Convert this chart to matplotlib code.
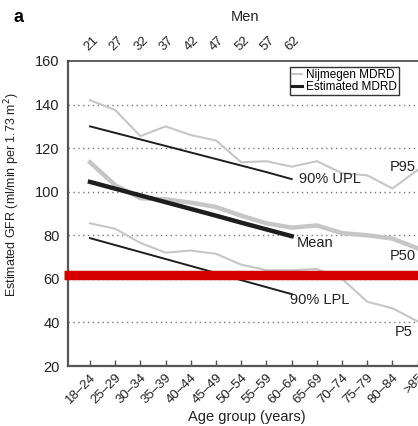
import matplotlib
matplotlib.use("Agg")
import matplotlib.pyplot as plt

plt.rcParams['font.family'] = ['Liberation Sans', 'DejaVu Sans']

age_groups = ['18–24', '25–29', '30–34', '35–39', '40–44', '45–49', '50–54',
              '55–59', '60–64', '65–69', '70–74', '75–79', '80–84', '>85']
men_ages = ['21', '27', '32', '37', '42', '47', '52', '57', '62']

p95 = [142, 137.5, 125.5, 130, 126, 123.5, 113.5, 114, 111.5, 114, 108.5, 107.5, 101.5, 110]
p50 = [113.5, 103, 97, 96.5, 95, 93, 89, 85.5, 83.5, 84.5, 81, 80, 78.5, 74]
p5 = [85.5, 83, 76.5, 72, 73, 71.5, 66.5, 64, 64, 64.5, 60, 49.5, 46.5, 40.5]

est_upl = [130, 127, 124, 121, 118, 115, 112, 109, 105.8]
est_mean = [104.5, 101.4, 98.3, 95.2, 92.1, 89.0, 85.8, 82.7, 79.6]
est_lpl = [78.7, 75.5, 72.3, 69.1, 65.9, 62.7, 59.4, 56.2, 53.0]

W, H = 418, 426
fig = plt.figure(figsize=(W / 100, H / 100), dpi=100)
ax = fig.add_axes([68 / W, (H - 366) / H, (425 - 68) / W, (366 - 61) / H])

xs = list(range(len(age_groups)))
xe = list(range(len(men_ages)))
gray = '#c6c6c6'
dark = '#1e1e1e'

ax.set_xlim(-0.873, 13.29)
ax.set_ylim(20, 160)

for v in [40, 60, 80, 100, 120, 140]:
    ax.axhline(v, color='#777777', lw=1.0, ls=(0, (1, 2.5)), zorder=1)

ax.plot(xs, p95, color=gray, lw=1.5, zorder=2)
ax.plot(xs, p50, color=gray, lw=3.2, zorder=2)
ax.plot(xs, p5, color=gray, lw=1.5, zorder=2)
ax.plot(xe, est_upl, color=dark, lw=1.4, zorder=3)
ax.plot(xe, est_mean, color=dark, lw=3.2, zorder=3)
ax.plot(xe, est_lpl, color=dark, lw=1.4, zorder=3)

# legend
from matplotlib.lines import Line2D
handles = [Line2D([], [], color=gray, lw=1.5), Line2D([], [], color=dark, lw=2.2)]
leg = ax.legend(handles, ['Nijmegen MDRD', 'Estimated MDRD'], loc='upper left',
                bbox_to_anchor=((290 - 68) / (425 - 68), 1 - (67 - 61) / 305),
                fontsize=8.5, handlelength=0.9, handletextpad=0.3, borderpad=0.15,
                labelspacing=0.0, fancybox=False, framealpha=1, edgecolor='#333333',
                borderaxespad=0)
leg.get_frame().set_linewidth(1.0)

tkw = dict(fontsize=10.5, color='#222222')
ax.text(8.3, 105.8, '90% UPL', va='center', ha='left', **tkw)
ax.text(8.2, 76.5, 'Mean', va='center', ha='left', **tkw)
ax.text(7.95, 50.5, '90% LPL', va='center', ha='left', **tkw)
ax.text(11.9, 111.5, 'P95', va='center', ha='left', **tkw)
ax.text(11.9, 70.5, 'P50', va='center', ha='left', **tkw)
ax.text(12.1, 35.5, 'P5', va='center', ha='left', **tkw)

# red bar
ax.axhline(61.7, xmin=-0.012, xmax=1, color='#d40000', lw=6.8, clip_on=False, zorder=5,
           solid_capstyle='butt')

ax.set_xticks(xs)
ax.set_xticklabels(age_groups, rotation=45, ha='right', rotation_mode='anchor', fontsize=9.5,
                   color='#222222')
ax.set_yticks([20, 40, 60, 80, 100, 120, 140, 160])
ax.tick_params(axis='x', direction='in', length=4, width=1, color='#555555', pad=4)
ax.tick_params(axis='y', length=0, labelsize=10.5, labelcolor='#222222', pad=6)

for s in ['left', 'bottom']:
    ax.spines[s].set_linewidth(1.6)
    ax.spines[s].set_color('#555555')
ax.spines['top'].set_linewidth(1.2)
ax.spines['top'].set_color('#444444')
ax.spines['right'].set_visible(False)

ax.set_xlabel('Age group (years)', fontsize=10.5, color='#222222', labelpad=3)
ax.set_ylabel('Estimated GFR (ml/min per 1.73 m$^2$)', fontsize=9, color='#222222')
ax.yaxis.set_label_coords(22 / W * (W / (425 - 68)) - 68 / (425 - 68), 0.56)

top = ax.secondary_xaxis('top')
top.set_xticks(xe)
top.set_xticklabels(men_ages, rotation=45, ha='left', rotation_mode='anchor', fontsize=9.5,
                    color='#222222')
top.tick_params(length=0, pad=6)
top.spines['top'].set_visible(False)

fig.text(245 / W, 1 - 17 / H, 'Men', ha='center', va='center', fontsize=10.5, color='#222222')
fig.text(18 / W, 1 - 17 / H, 'a', ha='center', va='center', fontsize=13, fontweight='bold')

fig.savefig('out.png', dpi=100)
